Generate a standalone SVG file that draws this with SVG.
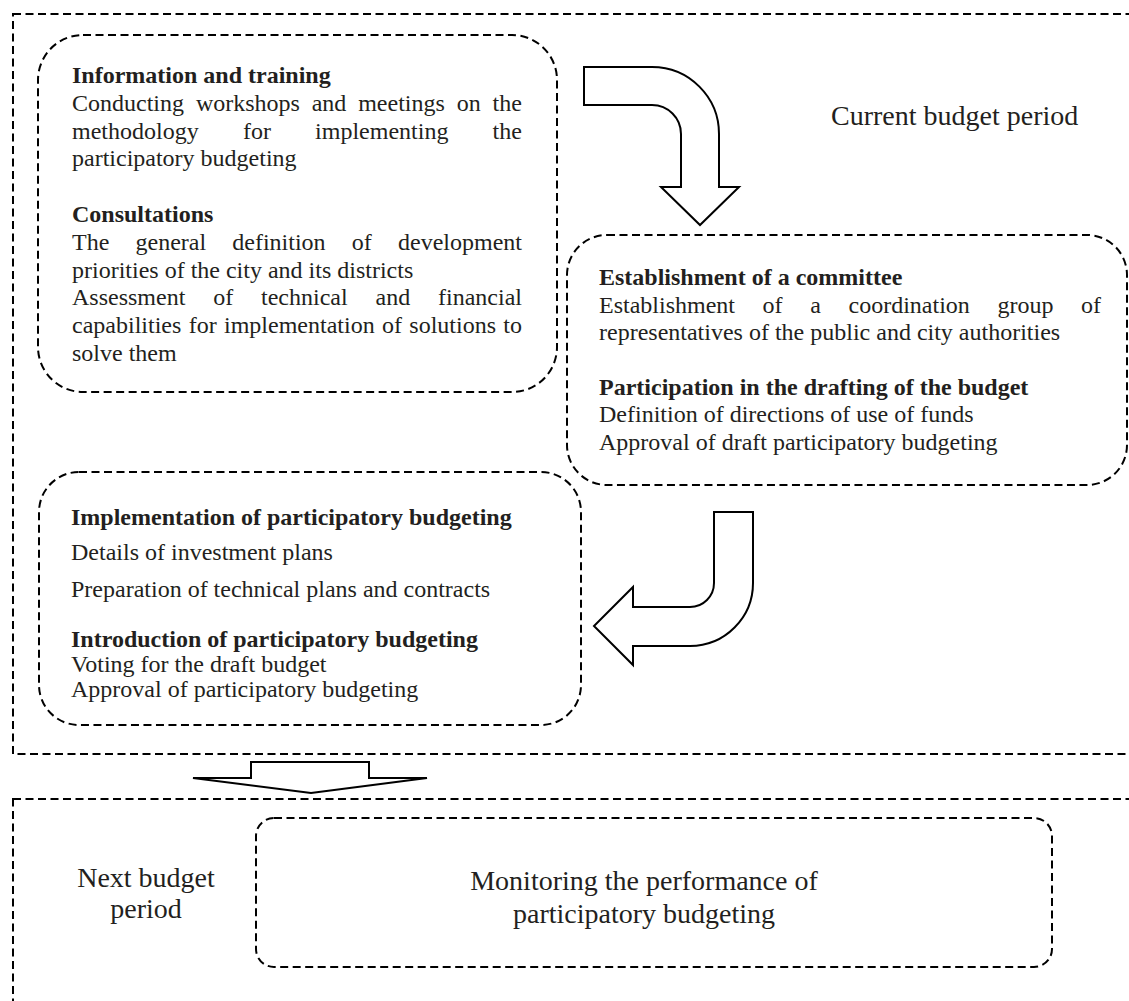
<svg xmlns="http://www.w3.org/2000/svg" width="1129" height="1001" viewBox="0 0 1129 1001">
<defs>
<style>
.dash{fill:none;stroke:#000;stroke-width:2;stroke-dasharray:8 4.5}
.arrow{fill:#fff;stroke:#000;stroke-width:2;stroke-linejoin:miter}
text{font-family:"Liberation Serif","Times New Roman",serif;fill:#231f20}
.t{font-size:24px}
.b{font-size:24px;font-weight:bold}
.big{font-size:28px}
</style>
</defs>
<rect width="1129" height="1001" fill="#fff"/>
<g id="current-period">
<rect class="dash" x="13" y="14" width="1130" height="740"/>
<text class="big" x="831" y="125">Current budget period</text>
</g>
<g id="next-period">
<rect class="dash" x="13" y="799" width="1130" height="230"/>
<text class="big" text-anchor="middle"><tspan x="146" y="887">Next budget</tspan><tspan x="146" y="918">period</tspan></text>
</g>
<g id="node-information">
<rect class="dash" x="38" y="35" width="519" height="357" rx="45" ry="45"/>
<text class="b" x="72" y="83">Information and training</text>
<text class="t" y="110.8"><tspan x="72">Conducting</tspan><tspan x="195.9">workshops</tspan><tspan x="311.7">and</tspan><tspan x="358.2">meetings</tspan><tspan x="456.8">on</tspan><tspan x="492.6">the</tspan></text>
<text class="t" y="138.6"><tspan x="72">methodology</tspan><tspan x="242.9">for</tspan><tspan x="315.1">implementing</tspan><tspan x="492.6">the</tspan></text>
<text class="t" x="72" y="166.4">participatory budgeting</text>
<text class="b" x="72" y="222">Consultations</text>
<text class="t" y="249.8"><tspan x="72">The</tspan><tspan x="135.5">general</tspan><tspan x="232.3">definition</tspan><tspan x="351.8">of</tspan><tspan x="398">development</tspan></text>
<text class="t" x="72" y="277.6">priorities of the city and its districts</text>
<text class="t" y="305.4"><tspan x="72">Assessment</tspan><tspan x="213.2">of</tspan><tspan x="261">technical</tspan><tspan x="375.5">and</tspan><tspan x="438">financial</tspan></text>
<text class="t" y="333.2"><tspan x="72">capabilities</tspan><tspan x="188.7">for</tspan><tspan x="224">implementation</tspan><tspan x="382">of</tspan><tspan x="409.3">solutions</tspan><tspan x="503.3">to</tspan></text>
<text class="t" x="72" y="361">solve them</text>
</g>
<g id="node-committee">
<rect class="dash" x="567" y="235" width="560" height="250" rx="40" ry="40"/>
<text class="b" x="599" y="285">Establishment of a committee</text>
<text class="t" y="312.5"><tspan x="599">Establishment</tspan><tspan x="762.6">of</tspan><tspan x="810.2">a</tspan><tspan x="848.5">coordination</tspan><tspan x="997.4">group</tspan><tspan x="1081">of</tspan></text>
<text class="t" x="599" y="340">representatives of the public and city authorities</text>
<text class="b" x="599" y="395">Participation in the drafting of the budget</text>
<text class="t" x="599" y="422">Definition of directions of use of funds</text>
<text class="t" x="599" y="450">Approval of draft participatory budgeting</text>
</g>
<g id="node-implementation">
<rect class="dash" x="39" y="472" width="542" height="253" rx="40" ry="40"/>
<text class="b" x="71" y="525">Implementation of participatory budgeting</text>
<text class="t" x="71" y="560">Details of investment plans</text>
<text class="t" x="71" y="597">Preparation of technical plans and contracts</text>
<text class="b" x="71" y="647">Introduction of participatory budgeting</text>
<text class="t" x="71" y="672">Voting for the draft budget</text>
<text class="t" x="71" y="697">Approval of participatory budgeting</text>
</g>
<g id="node-monitoring">
<rect class="dash" x="256" y="818" width="796" height="149" rx="18" ry="18"/>
<text class="big" text-anchor="middle"><tspan x="644" y="890">Monitoring the performance of</tspan><tspan x="644" y="923">participatory budgeting</tspan></text>
</g>
<g id="connectors">
<path class="arrow" d="M584,67 L652,67 A67,67 0 0 1 719,134 L719,187 L739,187 L700,225 L661,187 L681,187 L681,134 A29,29 0 0 0 652,105 L584,105 Z"/>
<path class="arrow" d="M714,512 L753,512 L753,583 A63,63 0 0 1 690,646 L633,646 L633,665 L594,626 L633,587 L633,607 L690,607 A24,24 0 0 0 714,583 Z"/>
<path class="arrow" d="M251,778 L251,762 L369,762 L369,778 L427,778 L311,793 L193,778 Z"/>
</g>
</svg>
